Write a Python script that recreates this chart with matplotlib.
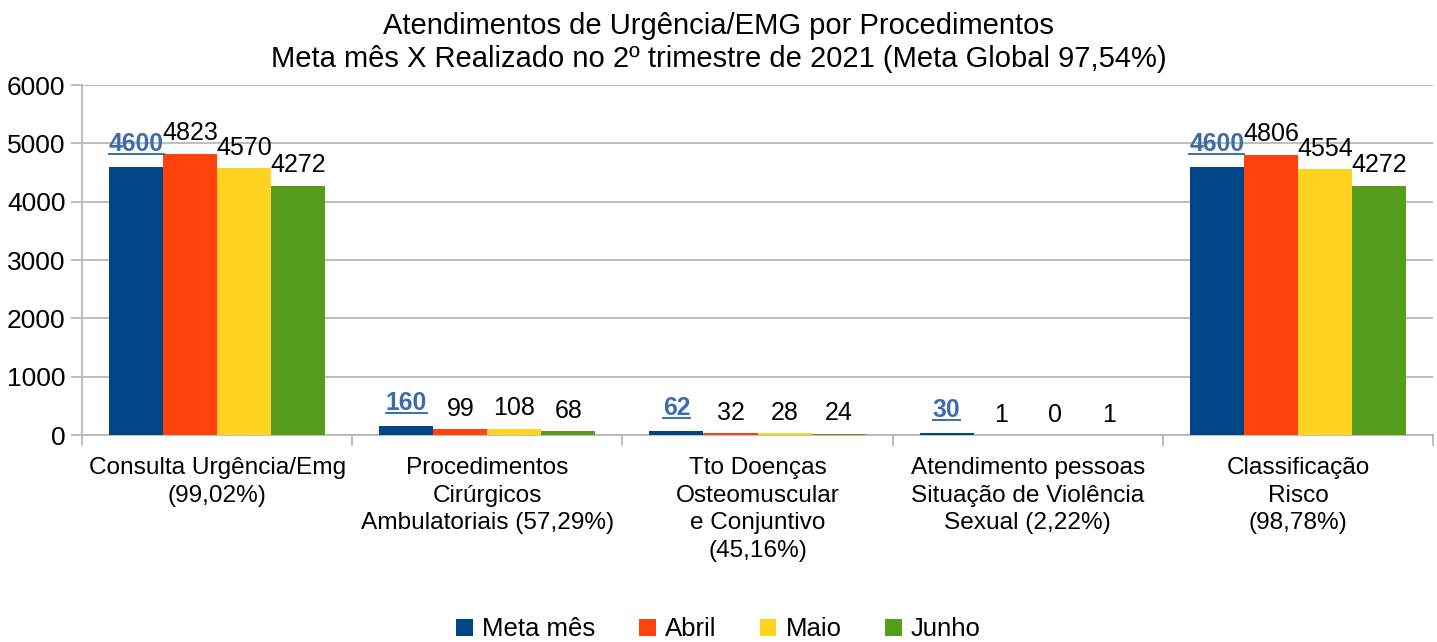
import numpy as np
import matplotlib.pyplot as plt
from matplotlib.lines import Line2D

plt.rcParams['font.family'] = ['Liberation Sans', 'DejaVu Sans']

# data
categories = ["Consulta Urgência/Emg\n(99,02%)",
              "Procedimentos\nCirúrgicos\nAmbulatoriais (57,29%)",
              "Tto Doenças\nOsteomuscular\ne Conjuntivo\n(45,16%)",
              "Atendimento pessoas\nSituação de Violência\nSexual (2,22%)",
              "Classificação\nRisco\n(98,78%)"]
meta = [4600, 160, 62, 30, 4600]
abril = [4823, 99, 32, 1, 4806]
maio = [4570, 108, 28, 0, 4554]
junho = [4272, 68, 24, 1, 4272]

series = [("Meta mês", meta, "#004586"),
          ("Abril", abril, "#ff420e"),
          ("Maio", maio, "#ffd320"),
          ("Junho", junho, "#579d1c")]

fig = plt.figure(figsize=(14.37, 6.42), dpi=100)
ax = fig.add_axes([0.0571, 0.3224, 0.9401, 0.5452])

x = np.arange(len(categories))
w = 0.2
meta_labels = []
for i, (name, vals, col) in enumerate(series):
    pos = x - 0.3 + i * w
    ax.bar(pos, vals, width=w, color=col, label=name, zorder=3)
    for px, v in zip(pos, vals):
        if i == 0:
            t = ax.annotate(str(v), (px, v), xytext=(0, 8), textcoords='offset points',
                            ha='center', va='bottom', fontsize=17.8, fontweight='bold',
                            color='#3c6cac')
            meta_labels.append(t)
        else:
            ax.annotate(str(v), (px, v), xytext=(0, 6), textcoords='offset points',
                        ha='center', va='bottom', fontsize=18, color='black')

ax.set_xlim(-0.5, len(categories) - 0.5)
ax.set_ylim(0, 6000)
ax.set_yticks(np.arange(0, 6001, 1000))
ax.yaxis.grid(True, color='#b3b3b3', linewidth=1.2, zorder=0)
ax.set_axisbelow(True)

ax.set_xticks(x)
ax.set_xticklabels(categories, fontsize=17.6, va='top', linespacing=1.33)
ax.tick_params(axis='x', which='major', length=0, pad=16)
ax.set_xticks(np.arange(-0.5, len(categories)), minor=True)
ax.tick_params(axis='x', which='minor', length=8, color='#b3b3b3', width=1.2)
ax.tick_params(axis='y', length=8, color='#b3b3b3', width=1.2, labelsize=19, pad=4)

for s in ['top', 'right']:
    ax.spines[s].set_visible(False)
for s in ['left', 'bottom']:
    ax.spines[s].set_color('#b3b3b3')
    ax.spines[s].set_linewidth(1.2)

fig.suptitle("Atendimentos de Urgência/EMG por Procedimentos\n"
             "Meta mês X Realizado no 2º trimestre de 2021 (Meta Global 97,54%)",
             fontsize=21, y=0.982, linespacing=1.23)

fig.legend(loc='lower center', ncol=4, frameon=False, fontsize=18.5,
           bbox_to_anchor=(0.5, -0.035), handlelength=0.65, handleheight=0.65,
           handletextpad=0.35, columnspacing=1.7)

# underline the Meta mês labels
fig.canvas.draw()
r = fig.canvas.get_renderer()
inv = fig.transFigure.inverted()
for t in meta_labels:
    bb = t.get_window_extent(r)
    (x0, y0), (x1, _) = inv.transform([(bb.x0, bb.y0 + 2), (bb.x1, bb.y0)])
    fig.add_artist(Line2D([x0, x1], [y0, y0], color='#3c6cac', linewidth=1.4,
                          transform=fig.transFigure))

fig.savefig("out.png", dpi=100)
